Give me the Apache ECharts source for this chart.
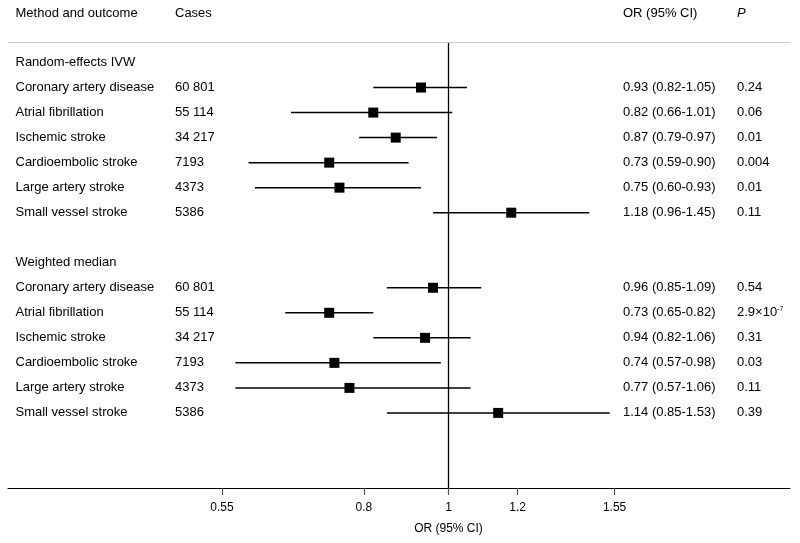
<!DOCTYPE html>
<html>
<head>
<meta charset="utf-8">
<script src="https://cdn.jsdelivr.net/npm/echarts@6/dist/echarts.min.js"></script>
<style>
html,body{margin:0;padding:0;background:#fff;}
#chart{width:800px;height:543px;}
</style>
</head>
<body>
<div id="chart"></div>
<script>
// ---- data ----
const groups = ['Random-effects IVW', 'Weighted median'];
const outcomes = ['Coronary artery disease', 'Atrial fibrillation', 'Ischemic stroke', 'Cardioembolic stroke', 'Large artery stroke', 'Small vessel stroke'];
const cases = ['60 801', '55 114', '34 217', '7193', '4373', '5386'];
const ivwOR = [0.93, 0.82, 0.87, 0.73, 0.75, 1.18];
const ivwLo = [0.82, 0.66, 0.79, 0.59, 0.60, 0.96];
const ivwHi = [1.05, 1.01, 0.97, 0.90, 0.93, 1.45];
const ivwP = ['0.24', '0.06', '0.01', '0.004', '0.01', '0.11'];
const wmOR = [0.96, 0.73, 0.94, 0.74, 0.77, 1.14];
const wmLo = [0.85, 0.65, 0.82, 0.57, 0.57, 0.85];
const wmHi = [1.09, 0.82, 1.06, 0.98, 1.06, 1.53];
const wmP = ['0.54', '2.9×10^-7', '0.31', '0.03', '0.11', '0.39'];
const tickValues = [0.55, 0.8, 1, 1.2, 1.55];
const tickLabels = ['0.55', '0.8', '1', '1.2', '1.55'];
const axisDomain = [0.3128, 2.462];

// ---- build rows ----
const FONT = '"Liberation Sans", Arial, Helvetica, sans-serif';
const ORs = [ivwOR, wmOR], LOs = [ivwLo, wmLo], HIs = [ivwHi, wmHi], Ps = [ivwP, wmP];
const ciData = [], pointData = [], textRows = [];
groups.forEach((g, gi) => {
  const base = gi * 8;
  textRows.push({ row: base, label: g, cases: '', or: '', p: '' });
  outcomes.forEach((o, i) => {
    const row = base + 1 + i;
    const or = ORs[gi][i], lo = LOs[gi][i], hi = HIs[gi][i];
    ciData.push([Math.log(lo), Math.log(hi), row]);
    pointData.push([Math.log(or), row]);
    textRows.push({
      row: row, label: o, cases: cases[i],
      or: or.toFixed(2) + ' (' + lo.toFixed(2) + '-' + hi.toFixed(2) + ')',
      p: Ps[gi][i]
    });
  });
});
const logTicks = tickValues.map(v => Math.log(v));
const Y_MIN = -0.82;

const chart = echarts.init(document.getElementById('chart'), null, { renderer: 'canvas' });

function txt(x, y, s, extra) {
  return {
    type: 'text',
    style: Object.assign({ x: x, y: y, text: s, fill: '#000', font: '13px ' + FONT, textVerticalAlign: 'middle', verticalAlign: 'middle', textAlign: 'left', align: 'left' }, extra || {})
  };
}

const option = {
  animation: false,
  backgroundColor: '#fff',
  grid: { left: 8, right: 10, top: 42, bottom: 55, containLabel: false },
  xAxis: {
    type: 'value',
    min: Math.log(axisDomain[0]),
    max: Math.log(axisDomain[1]),
    axisLine: { show: true, onZero: false, lineStyle: { color: '#000', width: 1 } },
    axisTick: { show: true, customValues: logTicks, length: 7, lineStyle: { color: '#555', width: 1.2 } },
    axisLabel: {
      show: true, customValues: logTicks, margin: 14, color: '#000', fontSize: 12, fontFamily: FONT,
      formatter: function (v) {
        let best = 0;
        logTicks.forEach((t, i) => { if (Math.abs(t - v) < Math.abs(logTicks[best] - v)) best = i; });
        return tickLabels[best];
      }
    },
    splitLine: { show: false }
  },
  yAxis: {
    type: 'value', inverse: true, min: Y_MIN, max: 17,
    show: false, splitLine: { show: false }
  },
  graphic: [
    { type: 'text', left: 15.5, top: 7, style: { text: 'Method and outcome', fill: '#000', font: '13px ' + FONT } },
    { type: 'text', left: 175, top: 7, style: { text: 'Cases', fill: '#000', font: '13px ' + FONT } },
    { type: 'text', left: 623, top: 7, style: { text: 'OR (95% CI)', fill: '#000', font: '13px ' + FONT } },
    { type: 'text', left: 737, top: 7, style: { text: 'P', fill: '#000', font: 'italic 13px ' + FONT } },
    { type: 'text', x: 448.5, y: 528.5, style: { text: 'OR (95% CI)', fill: '#000', font: '12px ' + FONT, textAlign: 'center', textVerticalAlign: 'middle', align: 'center', verticalAlign: 'middle' } }
  ],
  series: [
    {
      type: 'custom',
      name: 'ci',
      data: ciData,
      encode: { x: [0, 1], y: 2 },
      clip: false,
      renderItem: function (params, api) {
        const a = api.coord([api.value(0), api.value(2)]);
        const b = api.coord([api.value(1), api.value(2)]);
        return {
          type: 'line',
          shape: { x1: a[0], y1: a[1], x2: b[0], y2: b[1] },
          style: { stroke: '#000', lineWidth: 1.5 }
        };
      },
      z: 2
    },
    {
      type: 'scatter',
      name: 'OR',
      data: pointData,
      symbol: 'rect',
      symbolSize: 10,
      itemStyle: { color: '#000', opacity: 1 },
      z: 3,
      markLine: {
        silent: true,
        symbol: ['none', 'none'],
        label: { show: false },
        data: [
          { xAxis: 0, lineStyle: { color: '#000', width: 1.3, type: 'solid', opacity: 1 } },
          { yAxis: Y_MIN, lineStyle: { color: '#c8c8c8', width: 1, type: 'solid', opacity: 1 } }
        ]
      }
    },
    {
      type: 'custom',
      name: 'table',
      data: textRows.map(r => [0, r.row]),
      encode: { x: 0, y: 1 },
      clip: false,
      renderItem: function (params, api) {
        const r = textRows[params.dataIndex];
        const y = api.coord([0, api.value(1)])[1];
        const children = [txt(15.5, y, r.label), txt(175, y, r.cases), txt(623, y, r.or)];
        if (r.p.indexOf('^') >= 0) {
          const parts = r.p.split('^');
          children.push({
            type: 'text',
            style: {
              x: 737, y: y, text: '{a|' + parts[0] + '}{s|' + parts[1] + '}',
              verticalAlign: 'middle', align: 'left',
              rich: {
                a: { fontSize: 13, fontFamily: FONT, fill: '#000', color: '#000', lineHeight: 15 },
                s: { fontSize: 7, fontFamily: FONT, fill: '#000', color: '#000', verticalAlign: 'top', lineHeight: 15 }
              }
            }
          });
        } else {
          children.push(txt(737, y, r.p));
        }
        return { type: 'group', children: children };
      },
      z: 4
    }
  ]
};
chart.setOption(option);
</script>
</body>
</html>
